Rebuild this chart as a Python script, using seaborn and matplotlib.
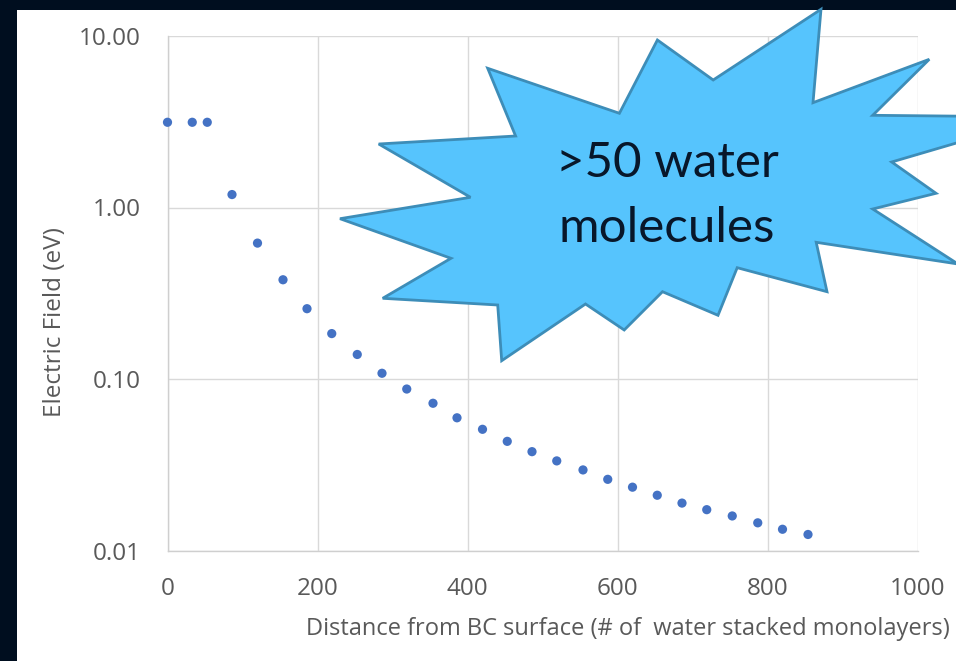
import matplotlib
matplotlib.use("Agg")
import matplotlib.pyplot as plt
from matplotlib.patches import Polygon, Rectangle
from matplotlib.ticker import FixedLocator, FuncFormatter, NullLocator
import seaborn as sns
import pandas as pd

# Distance from the BC surface (number of stacked water monolayers)
distance = [0, 33, 53, 86, 120, 154, 186, 219, 253, 286, 319, 354, 386, 420,
            453, 486, 519, 554, 587, 620, 653, 686, 719, 753, 787, 820, 854]
# Electric field strength (eV)
field = [3.14, 3.14, 3.14, 1.19, 0.62, 0.379, 0.257, 0.184, 0.139, 0.108,
         0.0874, 0.0722, 0.0594, 0.0509, 0.0433, 0.0377, 0.0333, 0.0295,
         0.0260, 0.0234, 0.0210, 0.0189, 0.0173, 0.0159, 0.0145, 0.0133, 0.0124]

x_ticks = [0, 200, 400, 600, 800, 1000]
y_ticks = [0.01, 0.1, 1, 10]

x_title = "Distance from BC surface (# of  water stacked monolayers)"
y_title = "Electric Field (eV)"
callout_lines = [">50 water", "molecules"]

df = pd.DataFrame({"distance": distance, "field": field})

W, H = 956, 661
sns.set_theme(style="whitegrid")
plt.rcParams["font.family"] = ["Open Sans", "DejaVu Sans"]

fig = plt.figure(figsize=(W / 100, H / 100), dpi=100, facecolor="#000e1f")

def fx(px):
    return px / W

def fy(py):
    return 1 - py / H

# white slide panel inside the dark frame
fig.add_artist(Rectangle((fx(17), 0), 1 - fx(17), fy(10), transform=fig.transFigure,
                         facecolor="white", edgecolor="none", zorder=-10))

ax = fig.add_axes([fx(167.5), fy(550.5), fx(917.5) - fx(167.5), fy(36) - fy(550.5)])
ax.set_facecolor("white")

sns.scatterplot(data=df, x="distance", y="field", ax=ax, color="#4472C4",
                s=44, edgecolor="none", linewidth=0, zorder=3, clip_on=False)

ax.set_yscale("log")
ax.set_xlim(0, 1000)
ax.set_ylim(0.01, 10)
ax.xaxis.set_major_locator(FixedLocator(x_ticks))
ax.yaxis.set_major_locator(FixedLocator(y_ticks))
ax.yaxis.set_minor_locator(NullLocator())
ax.xaxis.set_major_formatter(FuncFormatter(lambda v, p: f"{v:.0f}"))
ax.yaxis.set_major_formatter(FuncFormatter(lambda v, p: f"{v:.2f}"))

ax.grid(True, which="major", color="#d9d9d9", linewidth=1.0)
ax.set_axisbelow(True)
for side in ["top", "right"]:
    ax.spines[side].set_visible(False)
for side in ["left", "bottom"]:
    ax.spines[side].set_color("#cfcfcf")
    ax.spines[side].set_linewidth(1.0)

ax.tick_params(axis="both", length=0, labelsize=17.5, labelcolor="#595959")
ax.tick_params(axis="y", pad=19)
ax.tick_params(axis="x", pad=19)

ax.set_xlabel("")
ax.set_ylabel("")
fig.text(fx(306), fy(629), x_title, ha="left", va="center", fontsize=17.0,
         color="#595959")
fig.text(fx(55), fy(322), y_title, ha="center", va="center", rotation=90,
         fontsize=17.5, color="#595959")

# starburst callout outline (pixel positions on the slide)
burst_px = [(487.7, 68.3), (515.6, 136), (378.7, 144), (470.5, 197.3),
            (340, 218.7), (451, 258.3), (382.7, 298.3), (497.7, 305),
            (501.7, 360.7), (585.5, 304), (624.2, 330), (662.5, 291.7),
            (718, 315.3), (737.2, 267.7), (827, 291.7), (816.2, 242.3),
            (958, 264), (872.7, 209), (936, 193.3), (891.7, 162),
            (1045, 117), (872.7, 115.3), (929.3, 59.3), (813, 102.7),
            (821, 9.3), (713.2, 80), (657.4, 40), (619.4, 113.3)]
burst = Polygon([(fx(x), fy(y)) for x, y in burst_px], closed=True,
                transform=fig.transFigure, facecolor="#56c4fd",
                edgecolor="#3d8db8", linewidth=2.0, joinstyle="miter", zorder=5)
fig.add_artist(burst)

for line, base in zip(callout_lines, [177.3, 241.7]):
    fig.text(fx(667), fy(base), line, ha="center", va="baseline",
             fontsize=35.5, color="#08172a", family=["Lato", "DejaVu Sans"],
             zorder=6)

fig.savefig("out.png", dpi=100, facecolor=fig.get_facecolor())
